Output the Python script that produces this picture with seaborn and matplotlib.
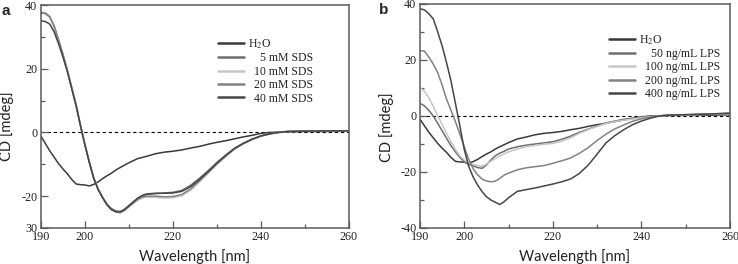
import numpy as np
import pandas as pd
import matplotlib
matplotlib.use("Agg")
import matplotlib.pyplot as plt
from matplotlib.ticker import FixedLocator, FixedFormatter
import seaborn as sns

# ---------------- data ----------------
x_h2o = [190, 191, 192, 193, 194, 195, 196, 197, 198, 199, 200, 201, 202, 203, 204, 205, 206,
         207, 208, 210, 212, 214, 216, 218, 220, 222, 224, 226, 228, 230, 232, 234, 236, 238,
         240, 242, 244, 246, 250, 255, 260]
y_h2o = [-1.2, -3.5, -5.8, -7.8, -9.8, -11.5, -13.0, -14.8, -16.2, -16.4, -16.5, -16.8, -16.3,
         -15.5, -14.5, -13.6, -12.8, -11.8, -11.0, -9.5, -8.2, -7.5, -6.7, -6.2, -5.9, -5.5,
         -4.9, -4.4, -3.7, -3.1, -2.6, -2.0, -1.4, -0.9, -0.3, 0.0, 0.1, 0.2, 0.3, 0.3, 0.4]

x_sds = [190, 191, 192, 193, 194, 195, 196, 197, 198, 199, 200, 201, 202, 203, 204, 205, 206,
         207, 208, 209, 210, 211, 212, 213, 214, 216, 218, 220, 222, 224, 226, 228, 230, 232,
         234, 236, 238, 240, 242, 244, 246, 250, 255, 260]
sds_5 = [37.5, 37.3, 36.2, 33.2, 28.8, 24.3, 19.3, 13.9, 8.4, 2.0, -4.0, -9.4, -14.3, -17.8,
         -20.3, -22.5, -23.9, -24.6, -24.8, -24.1, -22.9, -21.8, -20.7, -19.9, -19.5, -19.2,
         -19.0, -18.8, -18.2, -16.6, -14.4, -12.0, -9.4, -7.1, -5.0, -3.4, -2.1, -1.1, -0.4,
         0.0, 0.3, 0.4, 0.5, 0.5]
sds_10 = [37.8, 37.6, 36.5, 33.5, 29.0, 24.5, 19.5, 14.0, 8.5, 2.0, -4.0, -9.5, -14.5, -18.0,
          -20.5, -22.8, -24.3, -25.0, -25.3, -24.6, -23.4, -22.3, -21.3, -20.6, -20.3, -20.4,
          -20.6, -20.5, -19.9, -18.2, -15.6, -12.9, -10.1, -7.6, -5.3, -3.6, -2.3, -1.2, -0.5,
          0.0, 0.3, 0.4, 0.5, 0.5]
sds_20 = [37.6, 37.4, 36.3, 33.4, 29.0, 24.5, 19.5, 14.0, 8.5, 2.1, -3.9, -9.4, -14.4, -17.9,
          -20.4, -22.7, -24.1, -24.9, -25.1, -24.4, -23.2, -22.1, -21.0, -20.3, -20.0, -20.0,
          -20.2, -20.1, -19.5, -17.7, -15.2, -12.5, -9.8, -7.4, -5.1, -3.5, -2.2, -1.1, -0.5,
          0.0, 0.3, 0.4, 0.5, 0.5]
sds_40 = [35.0, 34.8, 34.0, 31.5, 27.8, 23.6, 19.0, 13.6, 8.2, 1.9, -4.0, -9.5, -14.5, -18.0,
          -20.5, -22.7, -24.2, -24.9, -25.0, -24.2, -23.0, -21.8, -20.6, -19.8, -19.3, -19.1,
          -19.1, -19.0, -18.5, -17.0, -14.8, -12.3, -9.6, -7.2, -5.0, -3.4, -2.1, -1.1, -0.4,
          0.0, 0.3, 0.4, 0.5, 0.5]

x_lps = [190, 191, 192, 193, 194, 195, 196, 197, 198, 199, 200, 201, 202, 203, 204, 205, 206,
         207, 208, 209, 210, 212, 214, 216, 218, 220, 222, 224, 226, 228, 230, 232, 234, 236,
         238, 240, 242, 244, 246, 250, 255, 260]
lps_50 = [4.5, 3.6, 2.0, 0.0, -2.6, -5.3, -8.0, -10.6, -12.8, -14.8, -16.4, -17.3, -17.8, -18.4,
          -18.7, -17.5, -15.7, -14.2, -13.3, -12.6, -11.8, -11.0, -10.4, -10.0, -9.6, -9.2,
          -8.3, -7.2, -5.8, -4.7, -3.6, -2.5, -1.8, -1.2, -0.8, -0.4, -0.2, 0.0, 0.2, 0.4, 0.6, 0.9]
lps_100 = [10.1, 8.9, 6.5, 3.5, 0.0, -3.0, -6.3, -9.2, -12.0, -14.2, -15.8, -16.7, -17.3, -17.7,
           -17.9, -17.2, -16.2, -15.2, -14.3, -13.5, -12.8, -11.8, -11.0, -10.5, -10.1, -9.8,
           -9.0, -7.8, -6.2, -4.9, -3.7, -2.7, -2.0, -1.5, -1.1, -0.6, -0.3, 0.0, 0.2, 0.4, 0.6, 0.8]
lps_200 = [23.3, 23.2, 21.0, 18.5, 15.5, 11.0, 6.0, 2.0, -2.0, -6.5, -11.0, -15.5, -18.8, -21.0,
           -22.5, -23.2, -23.5, -23.3, -22.3, -21.1, -20.4, -19.2, -18.5, -18.1, -17.7, -16.9,
           -16.0, -15.0, -13.3, -11.3, -8.7, -6.5, -4.6, -3.2, -1.9, -1.0, -0.4, 0.0, 0.2, 0.4, 0.7, 1.0]
lps_400 = [38.3, 37.9, 36.5, 34.7, 30.0, 25.0, 19.0, 12.5, 4.5, -3.5, -12.0, -18.0, -21.8, -24.6,
           -27.0, -28.8, -30.0, -30.8, -31.6, -30.6, -29.2, -26.9, -26.3, -25.7, -25.0, -24.3,
           -23.5, -22.5, -20.5, -17.5, -13.6, -9.6, -7.0, -4.9, -3.1, -1.8, -0.8, 0.0, 0.3, 0.5, 0.7, 1.0]

labels_a = ["H$_2$O", "    5 mM SDS", "  10 mM SDS", "  20 mM SDS", "  40 mM SDS"]
labels_b = ["H$_2$O", "    50 ng/mL LPS", "  100 ng/mL LPS", "  200 ng/mL LPS", "  400 ng/mL LPS"]
colors = ["#3a3a3a", "#6e6e6e", "#c6c6c6", "#828282", "#464646"]

xticks_major = [190, 200, 220, 240, 260]
xticks_minor = [210, 230, 250]
yticks_a = [-30, -20, 0, 20, 40]
yticklabels_a = ["30", "-20", "0", "20", "40"]
yminor_a = [-10, 10, 30]
yticks_b = [-40, -20, 0, 20, 40]
yticklabels_b = ["-40", "-20", "0", "20", "40"]
yminor_b = [-30, -10, 10, 30]

# ---------------- style ----------------
sns.set_style("ticks")
plt.rcParams["font.family"] = ["Liberation Serif", "DejaVu Serif"]
plt.rcParams["mathtext.fontset"] = "stix"
plt.rcParams["axes.unicode_minus"] = False

W, H = 738, 264
fig = plt.figure(figsize=(W / 100, H / 100), dpi=100)

def frac(l, t, r, b):
    return [l / W, 1 - b / H, (r - l) / W, (b - t) / H]

ax1 = fig.add_axes(frac(41, 5, 349, 228))
ax2 = fig.add_axes(frac(420, 4, 730, 228))

spine_c = "#5a5a5a"
lab_font = ["Lato", "DejaVu Sans"]

def draw(ax, series, labels, yt, ytl, ymin, ylim, leg_xy):
    for (xs, ys), lab, c in zip(series, labels, colors):
        sns.lineplot(x=xs, y=ys, ax=ax, color=c, lw=1.1, label=lab, sort=False)
    ax.axhline(0, color="black", lw=0.8, ls=(0, (3, 2.5)), zorder=0.5)
    ax.set_xlim(190, 260)
    ax.set_ylim(*ylim)
    ax.xaxis.set_major_locator(FixedLocator(xticks_major))
    ax.xaxis.set_minor_locator(FixedLocator(xticks_minor))
    ax.xaxis.set_major_formatter(FixedFormatter([str(v) for v in xticks_major]))
    ax.yaxis.set_major_locator(FixedLocator(yt))
    ax.yaxis.set_major_formatter(FixedFormatter(ytl))
    ax.yaxis.set_minor_locator(FixedLocator(ymin))
    ax.tick_params(which="both", direction="in", colors=spine_c, labelcolor="#222222",
                   labelsize=8.7, width=0.9, pad=2.5)
    ax.tick_params(which="major", length=5)
    ax.tick_params(which="minor", length=3)
    for s in ax.spines.values():
        s.set_color(spine_c)
        s.set_linewidth(1.1)
    ax.set_xlabel("Wavelength [nm]", fontsize=10.5, family=lab_font, color="#222222", va="center")
    ax.set_ylabel("CD [mdeg]", fontsize=10.5, family=lab_font, color="#222222", va="center")
    leg = ax.legend(loc="upper left", bbox_to_anchor=leg_xy, frameon=False, fontsize=8.5,
                    handlelength=2.2, handletextpad=0.3, labelspacing=0.12,
                    borderpad=0, borderaxespad=0)
    for ln in leg.get_lines():
        ln.set_linewidth(1.8)
    for t in leg.get_texts():
        t.set_color("#222222")

series_a = [(x_h2o, y_h2o), (x_sds, sds_5), (x_sds, sds_10), (x_sds, sds_20), (x_sds, sds_40)]
series_b = [(x_h2o, y_h2o), (x_lps, lps_50), (x_lps, lps_100), (x_lps, lps_200), (x_lps, lps_400)]

draw(ax1, series_a, labels_a, yticks_a, yticklabels_a, yminor_a, (-30, 40), (0.575, 0.855))
draw(ax2, series_b, labels_b, yticks_b, yticklabels_b, yminor_b, (-40, 40), (0.61, 0.87))

ax1.xaxis.set_label_coords(0.5, (228 - 256.5) / 223)
ax2.xaxis.set_label_coords(0.5, (228 - 256.5) / 224)
ax1.yaxis.set_label_coords((7 - 41) / 308, (228 - 126) / 223)
ax2.yaxis.set_label_coords((387 - 420) / 310, (228 - 127) / 224)

fig.text(6 / W, 1 - 11 / H, "a", fontsize=11, fontweight="bold",
         family=["Liberation Sans", "DejaVu Sans"], ha="center", va="center")
fig.text(384 / W, 1 - 10 / H, "b", fontsize=11, fontweight="bold",
         family=["Liberation Sans", "DejaVu Sans"], ha="center", va="center")

fig.savefig("out.png", dpi=100)
